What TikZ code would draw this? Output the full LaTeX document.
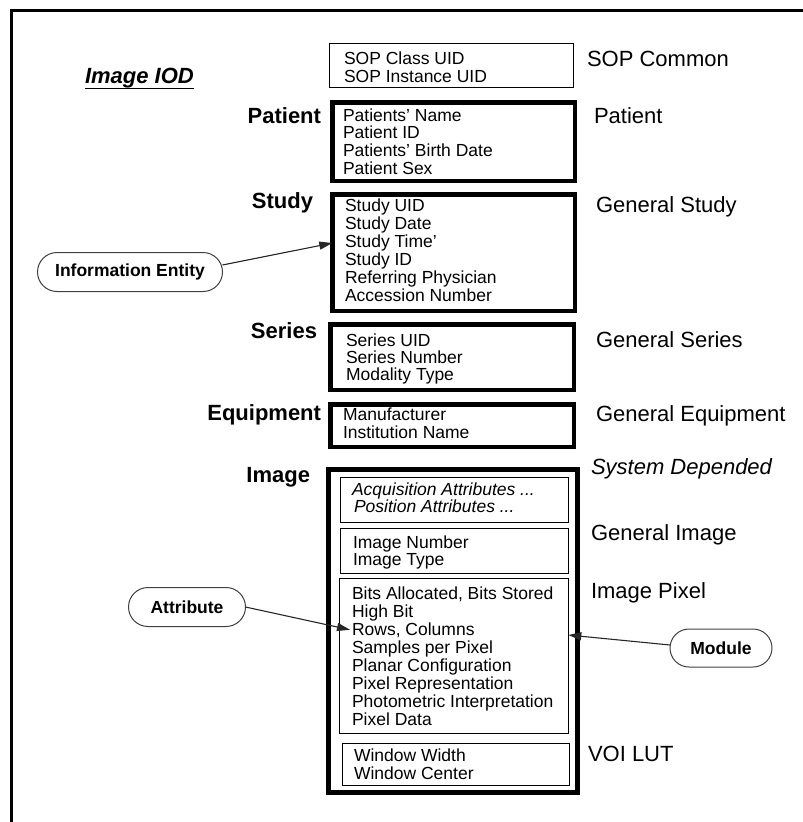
\documentclass[tikz,border=0pt]{standalone}
\usepackage{fontspec}
\setmainfont{Liberation Sans}
\usetikzlibrary{arrows.meta,shapes.misc}
\begin{document}
\begin{tikzpicture}[x=1pt,y=-1pt,
  every node/.style={inner sep=0pt, outer sep=0pt},
  boxtxt/.style={anchor=base west, font=\fontsize{17.5}{18}\selectfont},
  boxit/.style={anchor=base west, font=\fontsize{17.5}{18}\selectfont\itshape},
  rlab/.style={anchor=base west, font=\fontsize{22}{26}\selectfont},
  rlabit/.style={anchor=base west, font=\fontsize{22}{26}\selectfont\itshape},
  llab/.style={anchor=base east, font=\fontsize{22}{26}\selectfont\bfseries},
  thinbox/.style={draw, line width=1.3pt, anchor=north west},
  thickbox/.style={draw, line width=4.5pt, anchor=north west},
  outerbox/.style={draw, line width=5pt, anchor=north west},
  innerbox/.style={draw, line width=1.4pt, anchor=north west},
  tag/.style={rounded rectangle, draw=black!75, line width=1pt, font=\fontsize{17.5}{18}\selectfont\bfseries},
  arr/.style={draw=black!85, line width=1.1pt, -{Triangle[length=13pt,width=8pt]}}
]
\useasboundingbox (0,0) rectangle (803,822);
% frame
\draw[line width=3pt] (11.5,822) -- (11.5,10.5) -- (803,10.5);

% title
\node[anchor=base west, font=\fontsize{22}{26}\selectfont\bfseries\itshape] (iod) at (85,83) {Image IOD};
\draw[line width=1.6pt] ([yshift=-1pt]iod.south west) -- ([yshift=-1pt]iod.south east);

% boxes
\node[thinbox, minimum width=243.7, minimum height=43.7] (sopbox) at (329.7,43.7) {};
\node[thickbox, minimum width=242.5, minimum height=78.5] (patbox) at (332.3,102.3) {};
\node[thickbox, minimum width=242.5, minimum height=116.5] (studybox) at (332.3,194.3) {};
\node[thickbox, minimum width=243.5, minimum height=65.5] (serbox) at (330.3,324.3) {};
\node[thickbox, minimum width=243.5, minimum height=42.5] (eqbox) at (330.3,404.3) {};
\node[outerbox, minimum width=249, minimum height=323] (imgbox) at (328.5,469.5) {};
\node[innerbox, minimum width=227.6, minimum height=44.6] (acqbox) at (340.7,477.7) {};
\node[innerbox, minimum width=227.6, minimum height=44.6] (gibox) at (340.7,528.7) {};
\node[innerbox, minimum width=228.6, minimum height=154.6] (pixbox) at (339.7,578.7) {};
\node[innerbox, minimum width=226.6, minimum height=41.6] (voibox) at (342.7,743.7) {};

% box texts
\foreach \t [count=\i] in {SOP Class UID, SOP Instance UID}
  \node[boxtxt] (sop-\i) at (344,{64+18*(\i-1)}) {\t};
\foreach \t [count=\i] in {Patients' Name, Patient ID, Patients' Birth Date, Patient Sex}
  \node[boxtxt] (pat-\i) at (343,{121+17.7*(\i-1)}) {\t};
\foreach \t [count=\i] in {Study UID, Study Date, Study Time', Study ID, Referring Physician, Accession Number}
  \node[boxtxt] (study-\i) at (345,{211+18*(\i-1)}) {\t};
\foreach \t [count=\i] in {Series UID, Series Number, Modality Type}
  \node[boxtxt] (ser-\i) at (346,{346+17*(\i-1)}) {\t};
\foreach \t [count=\i] in {Manufacturer, Institution Name}
  \node[boxtxt] (eq-\i) at (343,{420+18*(\i-1)}) {\t};
\node[boxit] (acq-1) at (352,495) {Acquisition Attributes ...};
\node[boxit] (acq-2) at (354,512) {Position Attributes ...};
\foreach \t [count=\i] in {Image Number, Image Type}
  \node[boxtxt] (gi-\i) at (353,{548+17*(\i-1)}) {\t};
\foreach \t [count=\i] in {{Bits Allocated, Bits Stored}, High Bit, {Rows, Columns}, Samples per Pixel, Planar Configuration, Pixel Representation, Photometric Interpretation, Pixel Data}
  \node[boxtxt] (pix-\i) at (352,{599+18*(\i-1)}) {\t};
\foreach \t [count=\i] in {Window Width, Window Center}
  \node[boxtxt] (voi-\i) at (354,{761+18*(\i-1)}) {\t};

% left labels
\node[llab] (lpat) at (321,123) {Patient};
\node[llab] (lstudy) at (313,208) {Study};
\node[llab] (lser) at (317,338) {Series};
\node[llab] (leq) at (321,420) {Equipment};
\node[llab] (limg) at (310,482) {Image};

% right labels
\node[rlab] (rsop) at (587,66) {SOP Common};
\node[rlab] (rpat) at (594,123) {Patient};
\node[rlab] (rstudy) at (596,212) {General Study};
\node[rlab] (rser) at (596,347) {General Series};
\node[rlab] (req) at (596,421) {General Equipment};
\node[rlabit] (rsys) at (591,474) {System Depended};
\node[rlab] (rgi) at (591,540) {General Image};
\node[rlab] (rpix) at (591,598) {Image Pixel};
\node[rlab] (rvoi) at (588,761) {VOI LUT};

% tags
\node[tag, minimum width=185, minimum height=39] (ie) at (130,272) {Information Entity};
\node[tag, minimum width=117, minimum height=39] (attr) at (187,607) {Attribute};
\node[tag, minimum width=102, minimum height=38] (mod) at (721,648) {Module};

% arrows
\draw[arr] ([yshift=7pt]ie.east) -- ([yshift=9.5pt]studybox.west);
\draw[arr] (attr.east) -- ([xshift=-2pt]pix-3.west);
\draw[arr] ([yshift=3pt]mod.west) -- ([yshift=21pt]pixbox.east);
\end{tikzpicture}
\end{document}
